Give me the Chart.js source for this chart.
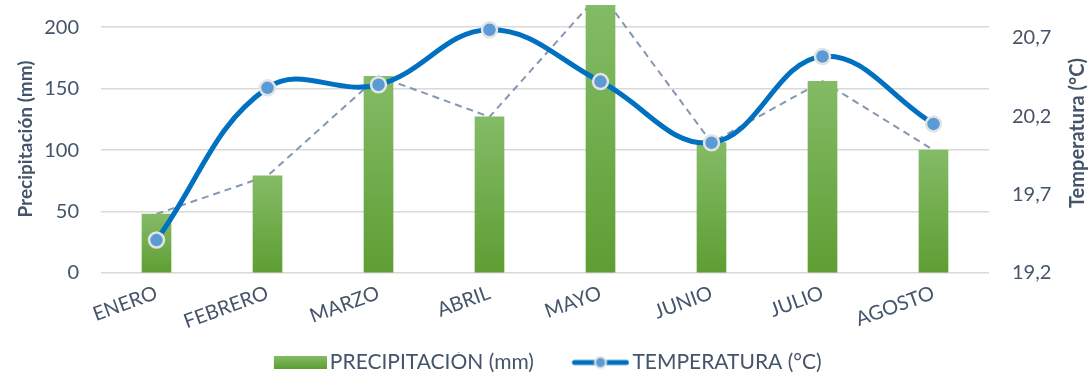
<!DOCTYPE html>
<html>
<head>
<meta charset="utf-8">
<script src="https://cdn.jsdelivr.net/npm/chart.js@4.4.1/dist/chart.umd.min.js"></script>
<style>
  html, body { margin: 0; padding: 0; background: #fff; }
  #wrap { width: 1092px; height: 373px; }
</style>
</head>
<body>
<div id="wrap"><canvas id="grafico"></canvas></div>
<script>
// datos
var meses = ["ENERO", "FEBRERO", "MARZO", "ABRIL", "MAYO", "JUNIO", "JULIO", "AGOSTO"];
var precipitacion = [48, 79, 160, 127, 228, 106, 156, 100];
var temperatura = [19.41, 20.38, 20.40, 20.75, 20.42, 20.03, 20.58, 20.15];
var ticksPrecip = [0, 50, 100, 150, 200];
var ticksTemp = [19.2, 19.7, 20.2, 20.7];

var texto = "#44546A";
var fuente = "Lato";
var tamLeyenda = 21;
var anchoCaja = 88; // hueco reservado para cada icono de la leyenda

function rellenoBarra(ctx) {
  var c = ctx.chart, a = c.chartArea;
  if (!a || ctx.type !== "data") return "#70AD47";
  var y = c.scales.y;
  var arriba = Math.max(y.getPixelForValue(ctx.raw), a.top);
  var abajo = y.getPixelForValue(0);
  var g = c.ctx.createLinearGradient(0, arriba, 0, abajo);
  g.addColorStop(0, "#84BB66");
  g.addColorStop(1, "#5E9E33");
  return g;
}

// iconos de la leyenda: el dibujo va pegado al lado derecho, junto al texto
var anchoIcono = anchoCaja + tamLeyenda - 6;

var iconoBarra = document.createElement("canvas");
iconoBarra.width = anchoIcono; iconoBarra.height = 13;
(function () {
  var x = iconoBarra.getContext("2d");
  var g = x.createLinearGradient(0, 0, 0, 13);
  g.addColorStop(0, "#84BB66");
  g.addColorStop(1, "#5E9E33");
  x.fillStyle = g;
  x.fillRect(anchoIcono - 53, 0, 53, 13);
})();

var iconoLinea = document.createElement("canvas");
iconoLinea.width = anchoIcono; iconoLinea.height = 16;
(function () {
  var x = iconoLinea.getContext("2d");
  var x0 = anchoIcono - 58;
  x.strokeStyle = "#0070C0";
  x.lineWidth = 5;
  x.lineCap = "round";
  x.beginPath(); x.moveTo(x0 + 3, 8); x.lineTo(x0 + 55, 8); x.stroke();
  x.beginPath(); x.arc(x0 + 29, 8, 5.5, 0, Math.PI * 2);
  x.fillStyle = "#5B9BD5"; x.fill();
  x.lineWidth = 2; x.strokeStyle = "#E3E3E3"; x.stroke();
})();

// titulo del eje derecho, leido de abajo hacia arriba
var tituloDerecho = {
  id: "tituloDerecho",
  afterDraw: function (chart) {
    var ctx = chart.ctx, a = chart.chartArea;
    ctx.save();
    ctx.translate(1078, (a.top + a.bottom) / 2 - 6);
    ctx.rotate(-Math.PI / 2);
    ctx.font = "bold 20px " + fuente;
    ctx.fillStyle = texto;
    ctx.textAlign = "center";
    ctx.textBaseline = "middle";
    ctx.fillText("Temperatura (°C)", 0, 0);
    ctx.restore();
  }
};

Chart.defaults.font.family = fuente;
Chart.defaults.color = texto;

new Chart(document.getElementById("grafico"), {
  type: "bar",
  data: {
    labels: meses,
    datasets: [
      {
        type: "line",
        label: "TEMPERATURA (°C)",
        data: temperatura,
        yAxisID: "y1",
        order: 0,
        borderColor: "#0070C0",
        borderWidth: 5,
        tension: 0.4,
        pointRadius: 7.5,
        pointBackgroundColor: "#5B9BD5",
        pointBorderColor: "#E3E3E3",
        pointBorderWidth: 2.5
      },
      {
        label: "PRECIPITACIÓN (mm)",
        data: precipitacion,
        yAxisID: "y",
        order: 1,
        backgroundColor: rellenoBarra,
        barThickness: 29
      },
      {
        type: "line",
        label: "tendencia",
        data: precipitacion,
        yAxisID: "y",
        order: 2,
        borderColor: "#8497B0",
        borderWidth: 2,
        borderDash: [7, 5],
        pointRadius: 0,
        tension: 0
      }
    ]
  },
  options: {
    responsive: true,
    maintainAspectRatio: false,
    animation: false,
    layout: { autoPadding: false, padding: { top: 5, left: 0, right: 39, bottom: -10 } },
    plugins: {
      tooltip: { enabled: false },
      legend: {
        position: "bottom",
        labels: {
          usePointStyle: true,
          pointStyleWidth: anchoCaja,
          padding: 0,
          font: { size: tamLeyenda },
          color: texto,
          generateLabels: function () {
            return [
              { text: "PRECIPITACIÓN (mm)", pointStyle: iconoBarra, fontColor: texto, datasetIndex: 1, hidden: false, lineWidth: 0 },
              { text: "TEMPERATURA (°C)", pointStyle: iconoLinea, fontColor: texto, datasetIndex: 0, hidden: false, lineWidth: 0 }
            ];
          }
        }
      }
    },
    scales: {
      x: {
        grid: { display: false, drawTicks: false },
        border: { display: false },
        ticks: { minRotation: 20, maxRotation: 20, padding: 8, font: { size: 20 }, color: texto },
        afterFit: function (s) { s.height = 79; }
      },
      y: {
        position: "left",
        min: 0,
        max: 218,
        afterBuildTicks: function (s) { s.ticks = ticksPrecip.map(function (v) { return { value: v }; }); },
        grid: { color: "#D9D9D9", lineWidth: 1.5, drawTicks: false },
        border: { display: false },
        ticks: { padding: 22, font: { size: 20 }, color: texto },
        title: { display: true, text: "Precipitación (mm)", color: texto, font: { size: 19, weight: "bold" }, padding: { top: 14, bottom: 0 } },
        afterFit: function (s) { s.width = 101; s.paddingTop = 0; s.paddingBottom = 0; }
      },
      y1: {
        position: "right",
        min: 19.2,
        max: 20.908,
        afterBuildTicks: function (s) { s.ticks = ticksTemp.map(function (v) { return { value: v }; }); },
        grid: { display: false, drawTicks: false },
        border: { display: false },
        ticks: {
          padding: 23,
          font: { size: 20 },
          color: texto,
          callback: function (v) { return v.toFixed(1).replace(".", ","); }
        },
        afterFit: function (s) { s.width = 64; s.paddingTop = 0; s.paddingBottom = 0; }
      }
    }
  },
  plugins: [tituloDerecho]
});
</script>
</body>
</html>
